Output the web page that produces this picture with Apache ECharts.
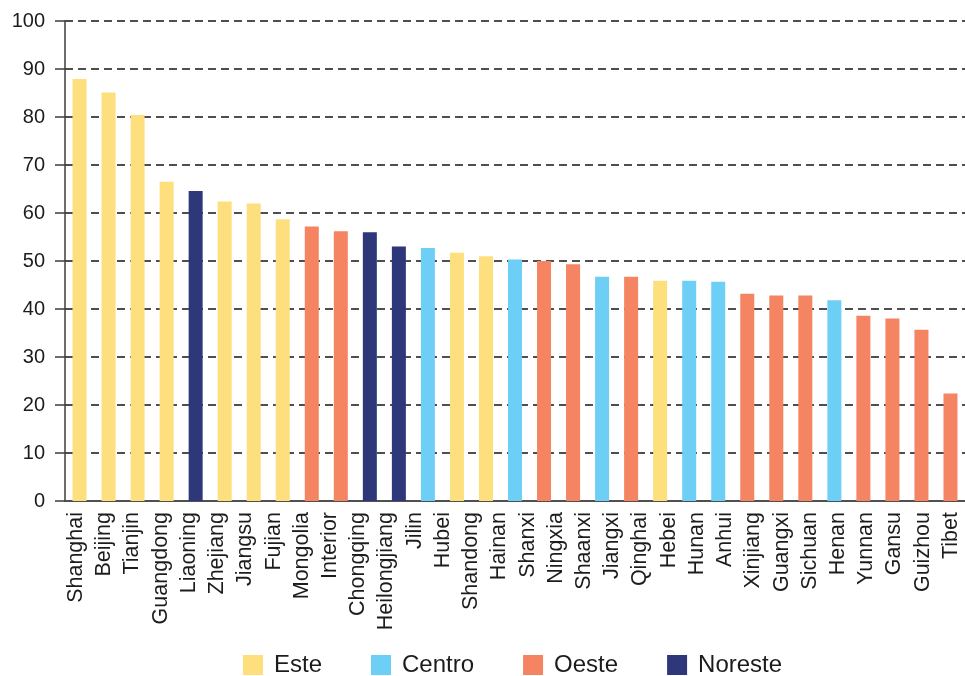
<!DOCTYPE html>
<html>
<head>
<meta charset="utf-8">
<style>
  html, body { margin: 0; padding: 0; background: #ffffff; }
  #chart { width: 965px; height: 676px; }
</style>
<script src="https://cdn.jsdelivr.net/npm/echarts@6/dist/echarts.min.js"></script>
</head>
<body>
<div id="chart"></div>
<script>
// Province order for the bars (one bar per province)
const provinces = [
  'Shanghai', 'Beijing', 'Tianjin', 'Guangdong', 'Liaoning', 'Zhejiang', 'Jiangsu', 'Fujian',
  'Inner Mongolia', 'Chongqing', 'Heilongjiang', 'Jilin', 'Hubei', 'Shandong', 'Hainan', 'Shanxi',
  'Ningxia', 'Shaanxi', 'Jiangxi', 'Qinghai', 'Hebei', 'Hunan', 'Anhui', 'Xinjiang',
  'Guangxi', 'Sichuan', 'Henan', 'Yunnan', 'Gansu', 'Guizhou', 'Tibet'
];

// Index value per province
const values = [
  87.9, 85.1, 80.4, 66.5, 64.6, 62.4, 62.0, 58.7,
  57.2, 56.2, 56.0, 53.0, 52.7, 51.7, 51.0, 50.3,
  50.0, 49.3, 46.7, 46.7, 45.9, 45.9, 45.7, 43.2,
  42.8, 42.8, 41.8, 38.6, 38.0, 35.7, 22.4
];

// Region of each province
const regionOf = [
  'Este', 'Este', 'Este', 'Este', 'Noreste', 'Este', 'Este', 'Este',
  'Oeste', 'Oeste', 'Noreste', 'Noreste', 'Centro', 'Este', 'Este', 'Centro',
  'Oeste', 'Oeste', 'Centro', 'Oeste', 'Este', 'Centro', 'Centro', 'Oeste',
  'Oeste', 'Oeste', 'Centro', 'Oeste', 'Oeste', 'Oeste', 'Oeste'
];

// Tick labels along the bottom (Inner Mongolia is written over two ticks)
const tickLabels = [
  'Shanghai', 'Beijing', 'Tianjin', 'Guangdong', 'Liaoning', 'Zhejiang', 'Jiangsu', 'Fujian',
  'Mongolia', 'Interior', 'Chongqing', 'Heilongjiang', 'Jilin', 'Hubei', 'Shandong', 'Hainan',
  'Shanxi', 'Ningxia', 'Shaanxi', 'Jiangxi', 'Qinghai', 'Hebei', 'Hunan', 'Anhui',
  'Xinjiang', 'Guangxi', 'Sichuan', 'Henan', 'Yunnan', 'Gansu', 'Guizhou', 'Tibet'
];

const regions = ['Este', 'Centro', 'Oeste', 'Noreste'];
const regionColors = {
  'Este': '#FEDF7E',
  'Centro': '#6DCFF6',
  'Oeste': '#F58463',
  'Noreste': '#2D377A'
};

const yTicks = { min: 0, max: 100, interval: 10 };

const FONT = 'Liberation Sans, Arial, Helvetica, sans-serif';
const TEXT = '#1c1c1c';

const series = regions.map(function (r) {
  return {
    name: r,
    type: 'bar',
    stack: 'province',
    xAxisIndex: 0,
    yAxisIndex: 0,
    barWidth: 14,
    itemStyle: { color: regionColors[r] },
    emphasis: { disabled: true },
    data: values.map(function (v, i) { return regionOf[i] === r ? v : '-'; })
  };
});

const chart = echarts.init(document.getElementById('chart'), null, { renderer: 'canvas' });

chart.setOption({
  animation: false,
  backgroundColor: '#ffffff',
  textStyle: { fontFamily: FONT },
  grid: [
    { left: 65, top: 21, width: 907, height: 480, containLabel: false },
    { left: 62, top: 21, width: 904, height: 480, containLabel: false }
  ],
  legend: {
    data: regions,
    left: 238,
    top: 648,
    itemWidth: 20,
    itemHeight: 20,
    itemGap: 49,
    icon: 'rect',
    textStyle: { fontSize: 24, color: TEXT, fontFamily: FONT, padding: [0, 0, 0, 6] }
  },
  xAxis: [
    {
      type: 'category',
      gridIndex: 0,
      data: provinces,
      boundaryGap: true,
      axisLine: { show: true, lineStyle: { color: '#505050', width: 2 } },
      axisTick: { show: false },
      axisLabel: { show: false },
      splitLine: { show: false }
    },
    {
      type: 'category',
      gridIndex: 1,
      position: 'bottom',
      data: tickLabels,
      boundaryGap: true,
      axisLine: { show: false },
      axisTick: { show: false },
      axisLabel: {
        show: true,
        interval: 0,
        rotate: 90,
        margin: 11,
        fontSize: 21.5,
        color: TEXT,
        fontFamily: FONT
      },
      splitLine: { show: false }
    }
  ],
  yAxis: [
    {
      type: 'value',
      gridIndex: 0,
      min: yTicks.min,
      max: yTicks.max,
      interval: yTicks.interval,
      axisLine: { show: true, lineStyle: { color: '#3c3c3c', width: 1.5 } },
      axisTick: { show: true, inside: false, length: 10, lineStyle: { color: '#3c3c3c', width: 1.5 } },
      axisLabel: { fontSize: 20, color: TEXT, margin: 20, fontFamily: FONT },
      splitLine: { show: true, lineStyle: { color: '#4e4e4e', width: 2, type: [8, 5] } }
    },
    {
      type: 'value',
      gridIndex: 1,
      min: 0,
      max: 100,
      show: false,
      splitLine: { show: false }
    }
  ],
  series: series
});
</script>
</body>
</html>
